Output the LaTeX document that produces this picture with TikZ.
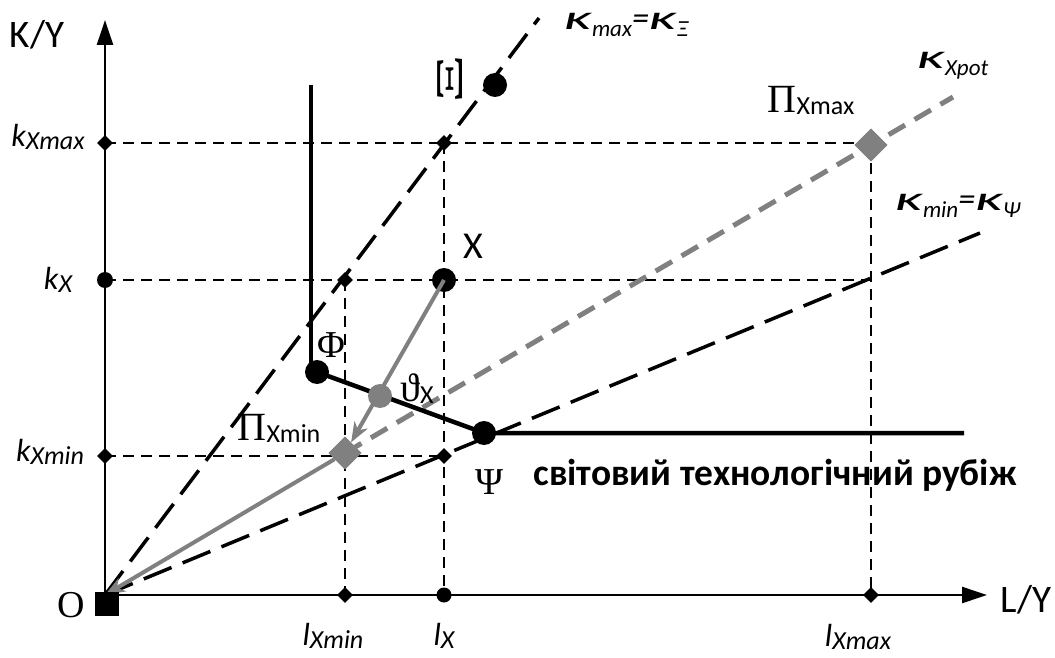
\documentclass[tikz,border=0pt]{standalone}
\usepackage{fontspec}
\usepackage{graphicx}
\setmainfont{Liberation Serif}
\newfontfamily\calfont{Carlito}
\usetikzlibrary{arrows.meta,shapes.geometric}
\definecolor{pgray}{RGB}{128,128,128}
\newcommand{\fs}[1]{\fontsize{#1}{#1}\selectfont}
\newcommand{\kvar}[2]{{\calfont\itshape\fs{32}#1\raisebox{-3pt}{\fs{26}#2}}}
\newcommand{\kap}{\scalebox{1.8}[1]{κ}}
\newcommand{\kapsub}[1]{{\kap\raisebox{-7pt}{\fs{23}#1}}}
\newcommand{\pisub}[1]{{\fs{40}Π}\raisebox{-2pt}{\calfont\fs{26}#1}}
\begin{document}
\begin{tikzpicture}[x=1pt,y=-1pt,
  guide/.style={line width=2.2pt,dash pattern=on 11pt off 7pt},
  kline/.style={line width=3.5pt,dash pattern=on 30pt off 12pt},
  potline/.style={line width=5pt,draw=pgray,dash pattern=on 19pt off 11pt},
  curve/.style={line width=4.5pt,line join=round},
  garrow/.style={line width=4pt,draw=pgray,-{Stealth[length=20pt,width=15pt,inset=6pt,fill=pgray]}},
  axis/.style={line width=2.5pt,-{Triangle[length=25pt,width=16pt]}},
  smalld/.style={diamond,fill=black,inner sep=0pt,minimum width=16pt,minimum height=16pt},
  smallc/.style={circle,fill=black,inner sep=0pt,minimum size=16pt},
  bigc/.style={circle,fill=black,inner sep=0pt,minimum size=24pt},
  gbigc/.style={circle,fill=pgray,inner sep=0pt,minimum size=24pt},
  gdia/.style={diamond,fill=pgray,inner sep=0pt,minimum width=33pt,minimum height=33pt},
  lab/.style={inner sep=0pt},
]
\useasboundingbox (0,0) rectangle (1055,658);
% axes
\coordinate (orig) at (105,595);
\coordinate (ytip) at (105,20);
\coordinate (xtip) at (987,595);
\draw[axis] (orig) -- (ytip);
\draw[axis] (orig) -- (xtip);
% markers
\node[smalld] (dkmax) at (105,143) {};
\node[smallc] (ckx) at (105,280) {};
\node[smalld] (dkmin) at (105,456) {};
\node[smalld] (dlmin) at (345,595) {};
\node[smallc,minimum size=15pt] (clx) at (444,595) {};
\node[smalld] (dlmax) at (871,595) {};
\node[smalld] (d1) at (444,143) {};
\node[smalld] (d2) at (345,280) {};
\node[smalld] (d3) at (444,456) {};
\node[gdia] (PXmax) at (871,145) {};
\node[gdia] (PXmin) at (345,453) {};
\coordinate (c4) at (871,280);
% guides
\draw[guide] (dkmax.center) -- (dkmax.center -| PXmax.center);
\draw[guide] (d1.center) -- (clx.center);
\draw[guide] (ckx.center) -- (c4);
\draw[guide] (PXmax.center) -- (dlmax.center);
\draw[guide] (d2.center) -- (dlmin.center);
\draw[guide] (dkmin.center) -- (d3.center);
% kappa lines
\coordinate (kmaxend) at (539,18);
\coordinate (kminend) at (980,233);
\coordinate (potend) at (953,97);
\draw[kline] (orig) -- (kmaxend);
\draw[kline] (orig) -- (kminend);
\draw[potline] (PXmin.center) -- (potend);
\node[gdia] at (PXmax.center) {};
% technology frontier
\coordinate (Ftop) at (311,85);
\coordinate (Fbot) at (311,368);
\coordinate (Rend) at (964,433);
\node[bigc] (Phi) at (317,372) {};
\node[bigc] (Psi) at (484,433) {};
\draw[curve] (Ftop) -- (Fbot);
\draw[curve] (Phi.center) -- (Psi.center) -- (Rend);
% points
\node[bigc] (Xp) at (444,280) {};
\draw[garrow] (Xp.center) -- (PXmin);
\draw[garrow] (PXmin) -- (orig);
\node[gdia] at (PXmin.center) {};
\node[gbigc] (theta) at (380,396) {};
\node[bigc] (Xi) at (495,85) {};
\node[fill=black,minimum size=24pt,inner sep=0pt] (Osq) at (107,604) {};
% labels
\node[lab] (lKY) at (37,35) {\calfont\fs{39}K/Y};
\node[lab] (lLY) at (1026,600) {\calfont\fs{39}L/Y};
\node[lab] (lX) at (473,246) {\calfont\fs{38}X};
\node[lab] (lO) at (71,605) {\fs{38}O};
\node[lab] (lPhi) at (331,345) {\fs{38}Φ};
\node[lab] (lPsi) at (490,482) {\fs{38}Ψ};
\node[lab] (lXi) at (450,79) {\rotatebox{90}{\scalebox{2.0}[1]{\fs{38}Ξ}}};
\node[lab] (lPmin) at (279,428) {\pisub{Xmin}};
\node[lab] (lPmax) at (811,100) {\pisub{Xmax}};
\node[lab] (lth) at (417,389) {{\fs{40}ϑ}\raisebox{-2pt}{\calfont\fs{26}X}};
\node[lab] (lkmax) at (48,137) {\kvar{k}{Xmax}};
\node[lab] (lkx) at (58,280) {\kvar{k}{X}};
\node[lab] (lkmin) at (50,452) {\kvar{k}{Xmin}};
\node[lab] (llmin) at (333,636) {\kvar{l}{Xmin}};
\node[lab] (llx) at (444,636) {\kvar{l}{X}};
\node[lab] (llmax) at (858,637) {\kvar{l}{Xmax}};
\node[lab,anchor=west] (lkapmax) at (564,25) {\calfont\itshape\fs{34}\kapsub{max}=\kapsub{Ξ}};
\node[lab,anchor=west] (lkappot) at (917,66) {\calfont\itshape\fs{34}\kapsub{Xpot}};
\node[lab,anchor=west] (lkapmin) at (895,206) {\calfont\itshape\fs{34}\kapsub{min}=\kapsub{Ψ}};
\node[lab] (lfront) at (775,475) {\calfont\bfseries\fs{37.5}світовий технологічний рубіж};
\end{tikzpicture}
\end{document}
